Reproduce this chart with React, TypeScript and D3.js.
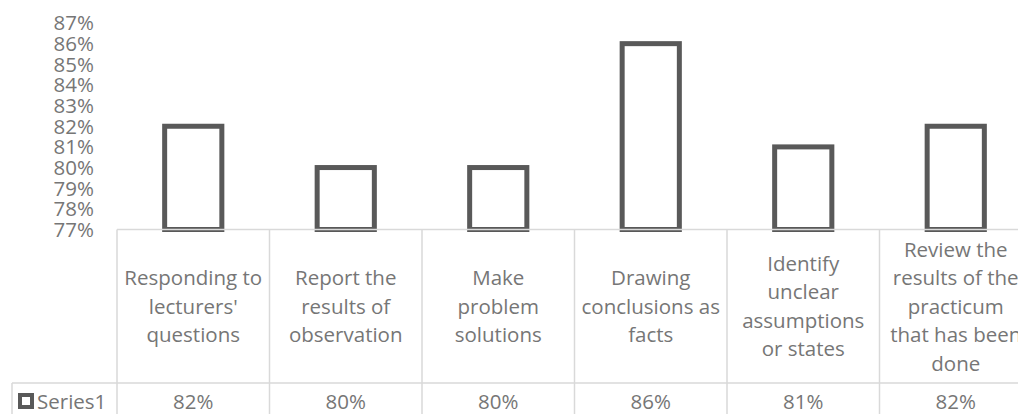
import * as d3 from "d3";
import { useEffect, useRef } from "react";

// category labels, wrapped the same way as the original table cells
const categoryLines: string[][] = [
  ["Responding to", "lecturers'", "questions"],
  ["Report the", "results of", "observation"],
  ["Make", "problem", "solutions"],
  ["Drawing", "conclusions as", "facts"],
  ["Identify", "unclear", "assumptions", "or states"],
  ["Review the", "results of the", "practicum", "that has been", "done"],
];
const categories = categoryLines.map((l) => l.join(" "));
const series1 = [0.82, 0.8, 0.8, 0.86, 0.81, 0.82];
const seriesName = "Series1";
const yTicks = [0.77, 0.78, 0.79, 0.8, 0.81, 0.82, 0.83, 0.84, 0.85, 0.86, 0.87];

const App = () => {
  const ref = useRef<SVGSVGElement | null>(null);

  useEffect(() => {
    const svg = d3.select(ref.current);
    svg.selectAll("*").remove();

    const width = 1018;
    const height = 414;
    svg.attr("width", width).attr("height", height);

    const font = "'Open Sans', sans-serif";
    const fontSize = 20.5;
    const textColor = "#767676";
    const lineColor = "#d9d9d9";
    const barColor = "#595959";

    const plotLeft = 117;
    const colW = 152.5;
    const axisY = 229.5;
    const rowY = 383;
    const tableLeft = 12;

    const x = d3
      .scaleBand()
      .domain(categories)
      .range([plotLeft, plotLeft + colW * categories.length])
      .padding(0);

    const y = d3.scaleLinear().domain([0.77, 0.87]).range([axisY, 23]);

    const barW = x.bandwidth() * 0.375;

    // y tick labels
    svg
      .append("g")
      .selectAll("text")
      .data(yTicks)
      .enter()
      .append("text")
      .attr("x", 94)
      .attr("y", (d) => y(d))
      .attr("dy", "0.36em")
      .attr("text-anchor", "end")
      .style("font-family", font)
      .style("font-size", `${fontSize}px`)
      .style("fill", textColor)
      .text((d) => d3.format(".0%")(d));

    // bars
    svg
      .append("g")
      .selectAll("rect")
      .data(series1)
      .enter()
      .append("rect")
      .attr("x", (_, i) => (x(categories[i]) ?? 0) + (x.bandwidth() - barW) / 2)
      .attr("y", (d) => y(d))
      .attr("width", barW)
      .attr("height", (d) => y(0.77) - y(d))
      .attr("fill", "white")
      .attr("stroke", barColor)
      .attr("stroke-width", 5);

    // data table lines
    const lines = svg.append("g").attr("stroke", lineColor).attr("stroke-width", 1.5);
    lines
      .append("line")
      .attr("x1", plotLeft)
      .attr("x2", width)
      .attr("y1", axisY)
      .attr("y2", axisY);
    lines
      .append("line")
      .attr("x1", tableLeft)
      .attr("x2", width)
      .attr("y1", rowY)
      .attr("y2", rowY);
    lines
      .append("line")
      .attr("x1", tableLeft)
      .attr("x2", tableLeft)
      .attr("y1", rowY)
      .attr("y2", height);
    lines
      .selectAll(".col")
      .data(categories)
      .enter()
      .append("line")
      .attr("x1", (d) => x(d) ?? 0)
      .attr("x2", (d) => x(d) ?? 0)
      .attr("y1", axisY)
      .attr("y2", height);

    // category labels
    const lineH = 28.5;
    const catMid = (axisY + rowY) / 2;
    svg
      .append("g")
      .selectAll("text")
      .data(categoryLines)
      .enter()
      .append("text")
      .attr("text-anchor", "middle")
      .style("font-family", font)
      .style("font-size", `${fontSize}px`)
      .style("fill", textColor)
      .each(function (lns, i) {
        const cx = (x(categories[i]) ?? 0) + x.bandwidth() / 2;
        const top = catMid - ((lns.length - 1) * lineH) / 2;
        d3.select(this)
          .selectAll("tspan")
          .data(lns)
          .enter()
          .append("tspan")
          .attr("x", cx)
          .attr("y", (_, j) => top + j * lineH)
          .attr("dy", "0.36em")
          .text((t) => t);
      });

    // value row
    const valMid = 401.5;
    svg
      .append("g")
      .selectAll("text")
      .data(series1)
      .enter()
      .append("text")
      .attr("x", (_, i) => (x(categories[i]) ?? 0) + x.bandwidth() / 2)
      .attr("y", valMid)
      .attr("dy", "0.36em")
      .attr("text-anchor", "middle")
      .style("font-family", font)
      .style("font-size", `${fontSize}px`)
      .style("fill", textColor)
      .text((d) => d3.format(".0%")(d));

    // legend key + series name
    svg
      .append("rect")
      .attr("x", 20)
      .attr("y", 395)
      .attr("width", 12)
      .attr("height", 12)
      .attr("fill", "white")
      .attr("stroke", barColor)
      .attr("stroke-width", 4);
    svg
      .append("text")
      .attr("x", 37)
      .attr("y", valMid)
      .attr("dy", "0.36em")
      .style("font-family", font)
      .style("font-size", `${fontSize}px`)
      .style("fill", textColor)
      .text(seriesName);
  }, []);

  return (
    <svg
      ref={ref}
      style={{ position: "absolute", left: 0, top: 0, display: "block", overflow: "hidden" }}
    ></svg>
  );
};

export default App;
